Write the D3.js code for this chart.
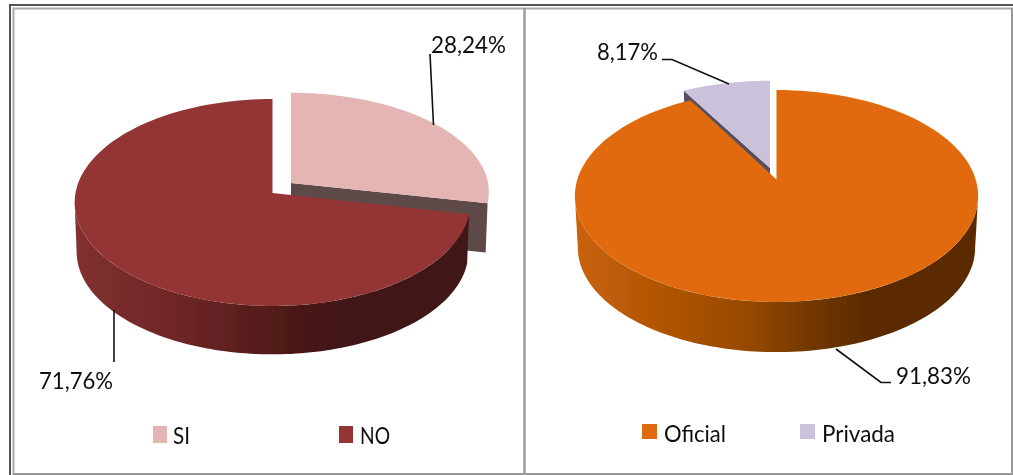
<!DOCTYPE html>
<html lang="es">
<head>
    <meta charset="UTF-8"/>
    <title>SI / NO - Oficial / Privada</title>
    <script src="https://cdnjs.cloudflare.com/ajax/libs/d3/7.8.5/d3.min.js"></script>
    <style>
        html, body { margin: 0; padding: 0; background: #fff; overflow: hidden; }
        text { font-family: Lato, "Open Sans", sans-serif; fill: #111; }
    </style>
</head>
<body>
<div id="chart"></div>
<script>
    // Data
    const leftCategories = ["SI", "NO"];
    const leftValues = [28.24, 71.76];
    const leftLabels = ["28,24%", "71,76%"];
    const leftColors = ["#e5b5b4", "#933634"];

    const rightCategories = ["Oficial", "Privada"];
    const rightValues = [91.83, 8.17];
    const rightLabels = ["91,83%", "8,17%"];
    const rightColors = ["#e06b0a", "#ccc1da"];

    const width = 1013;
    const height = 475;

    const svg = d3.select("#chart").append("svg")
        .attr("width", width)
        .attr("height", height);

    const defs = svg.append("defs");
    defs.append("filter").attr("id", "soft")
        .append("feGaussianBlur").attr("stdDeviation", 0.45);
    defs.append("filter").attr("id", "softText")
        .append("feGaussianBlur").attr("stdDeviation", 0.3);

    // Frame
    const frame = svg.append("g").attr("fill", "none");
    frame.append("path").attr("d", "M10,475V5H1013").attr("stroke", "#555").attr("stroke-width", 2);
    frame.append("path").attr("d", "M13.5,475V8.5H1013").attr("stroke", "#aaa").attr("stroke-width", 2);
    frame.append("path").attr("d", "M13,474H1013M1012,8V475").attr("stroke", "#999").attr("stroke-width", 2);
    frame.append("path").attr("d", "M524.5,8V475").attr("stroke", "#999").attr("stroke-width", 2.4);

    const line = d3.line();
    const pie = d3.pie().sort(null).value(d => d.value);

    // Circle on the pie plane -> screen, with the same perspective the original 3D pie has.
    function project(p, place, angle, level) {
        const u = Math.sin(angle);
        const v = Math.cos(angle);
        const w = 1 + p.k * v;
        const s = level ? p.bottomScale : 1;
        return [
            p.cx + place.dx + s * p.rx * u / w,
            p.cy + place.dy + (level ? p.depth : 0) - s * place.squash * p.ry * v / w
        ];
    }

    function arcPoints(p, place, a0, a1, level) {
        return d3.range(0, 121).map(i => project(p, place, a0 + (a1 - a0) * i / 120, level));
    }

    function drawPie(p) {
        const g = svg.append("g").attr("filter", "url(#soft)");
        const color = d3.scaleOrdinal().domain(p.categories).range(p.colors);
        const slices = pie(p.categories.map((c, i) => ({category: c, value: p.values[i]})));

        const gradient = defs.append("linearGradient")
            .attr("id", p.id + "-wall")
            .attr("gradientUnits", "userSpaceOnUse")
            .attr("x1", p.cx - p.rx).attr("x2", p.cx + p.rx)
            .attr("y1", 0).attr("y2", 0);
        p.wallStops.forEach(s => gradient.append("stop").attr("offset", s[0]).attr("stop-color", s[1]));

        // the outer wall only shows between the two widest points of the ellipse
        const wallFrom = Math.acos(-p.k);
        const wallTo = 2 * Math.PI - wallFrom;

        // exploded slice goes below the main one
        const order = slices.slice().sort((a, b) => {
            return (p.exploded[b.data.category] ? 1 : 0) - (p.exploded[a.data.category] ? 1 : 0);
        });

        order.forEach(d => {
            const name = d.data.category;
            const isExploded = !!p.exploded[name];
            const place = p.exploded[name] || {dx: 0, dy: 0, squash: 1};
            const apexTop = [p.cx + place.dx, p.cy + place.dy];
            const apexBot = [apexTop[0], apexTop[1] + p.depth];

            if (isExploded) {
                // cut face, mostly hidden by the main slice
                const edge = p.cutAngle(d);
                g.append("path")
                    .attr("d", line([
                        apexTop, project(p, place, edge, 0),
                        project(p, place, edge, 1), apexBot
                    ]) + "Z")
                    .attr("fill", p.cutColor);
            } else {
                // outer wall
                const a0 = Math.max(d.startAngle, wallFrom);
                const a1 = Math.min(d.endAngle, wallTo);
                g.append("path")
                    .attr("d", line(arcPoints(p, place, a0, a1, 0)
                        .concat(arcPoints(p, place, a1, a0, 1))) + "Z")
                    .attr("fill", `url(#${p.id}-wall)`);
            }

            // top face
            g.append("path")
                .attr("d", line([apexTop].concat(arcPoints(p, place, d.startAngle, d.endAngle, 0))) + "Z")
                .attr("fill", color(name));
        });

        // Leader lines
        svg.append("g").selectAll("path").data(p.leaders).join("path")
            .attr("d", d => line(d))
            .attr("fill", "none")
            .attr("stroke", "#111")
            .attr("stroke-width", 1.6);

        // Value labels
        svg.append("g").attr("filter", "url(#softText)").selectAll("text").data(p.labels).join("text")
            .attr("x", (d, i) => p.labelPos[i][0])
            .attr("y", (d, i) => p.labelPos[i][1])
            .attr("textLength", (d, i) => p.labelPos[i][2])
            .attr("lengthAdjust", "spacingAndGlyphs")
            .attr("font-size", 23)
            .text(d => d);

        // Legend
        const legend = svg.append("g").attr("filter", "url(#softText)")
            .selectAll("g").data(p.categories).join("g");
        legend.append("rect")
            .attr("x", (d, i) => p.legendPos[i][0])
            .attr("y", p.legendY)
            .attr("width", p.swatch[0])
            .attr("height", p.swatch[1])
            .attr("fill", d => color(d));
        legend.append("text")
            .attr("x", (d, i) => p.legendPos[i][1])
            .attr("y", p.legendBase)
            .attr("textLength", (d, i) => p.legendPos[i][2])
            .attr("lengthAdjust", "spacingAndGlyphs")
            .attr("font-size", 23)
            .text(d => d);
    }

    drawPie({
        id: "left",
        categories: leftCategories, values: leftValues, labels: leftLabels, colors: leftColors,
        cx: 272.5, cy: 193, rx: 197, ry: 102.6, k: 0.0918, depth: 49.5, bottomScale: 0.99,
        exploded: {SI: {dx: 18.5, dy: -10, squash: 0.96}},
        cutAngle: d => d.endAngle,
        cutColor: "#5d4a47",
        wallStops: [[0, "#82302f"], [0.25, "#6f2726"], [0.55, "#4c1917"], [0.7, "#3f1513"], [1, "#3f1513"]],
        leaders: [[[430, 54], [433.5, 125]], [[114, 310], [114, 362]]],
        labelPos: [[431, 53, 75], [39, 389, 74]],
        legendPos: [[153, 173, 17], [339, 360, 30]],
        legendY: 426, legendBase: 444, swatch: [14, 17]
    });

    drawPie({
        id: "right",
        categories: rightCategories, values: rightValues, labels: rightLabels, colors: rightColors,
        cx: 776.5, cy: 179.5, rx: 199.2, ry: 103.4, k: 0.1556, depth: 52, bottomScale: 0.985,
        exploded: {Privada: {dx: -6.5, dy: -11.5, squash: 0.975}},
        cutAngle: d => d.startAngle,
        cutColor: "#55505e",
        wallStops: [[0, "#c8620a"], [0.2, "#b25505"], [0.42, "#974a04"], [0.6, "#6f3602"], [0.72, "#5c2c00"], [1, "#5c2c00"]],
        leaders: [[[836, 349], [881, 382.5], [891, 382.5]], [[662, 59.5], [672, 59.5], [729, 84]]],
        labelPos: [[896, 384, 75], [597, 60, 61]],
        legendPos: [[642, 664, 62], [800, 822, 73]],
        legendY: 424, legendBase: 442, swatch: [15, 15]
    });
</script>
</body>
</html>
